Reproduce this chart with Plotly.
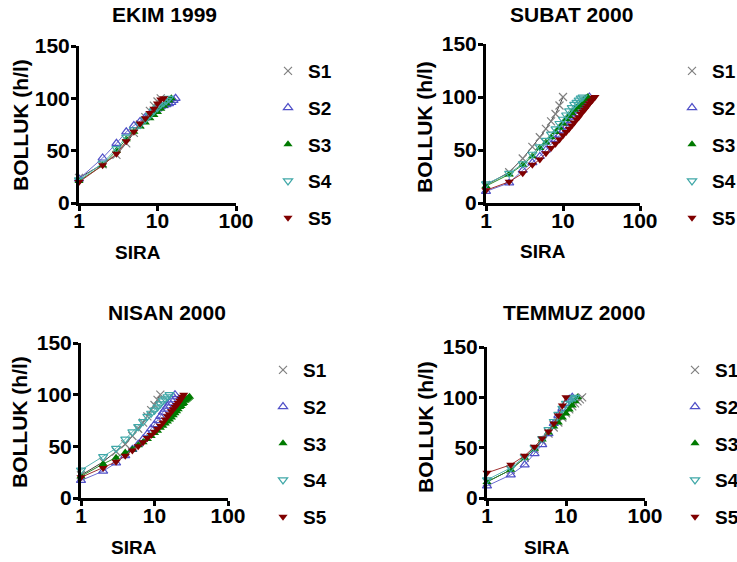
import plotly.graph_objects as go

W, H = 737, 562

series_names = ["S1", "S2", "S3", "S4", "S5"]
panel_titles = ["EKIM 1999", "SUBAT 2000", "NISAN 2000", "TEMMUZ 2000"]
x_tick_vals = [1, 10, 100]
y_tick_vals = [0, 50, 100, 150]
x_label = "SIRA"
y_label = "BOLLUK (h/l)"

# cumulative dominance (%) by species rank, per panel and series
ekim_s1 = [24, 37, 46, 57, 67, 75, 82, 88, 93, 97, 100]
ekim_s2 = [23, 43, 57, 68, 74, 78, 82, 85, 88, 90, 92, 93, 94, 95, 96, 98, 100]
ekim_s3 = [21, 36, 50, 61, 68, 73, 77, 81, 84, 87, 90, 93, 95, 98, 100]
ekim_s4 = [22, 38, 52, 63, 70, 75, 80, 84, 88, 91, 94, 96, 98, 100]
ekim_s5 = [20, 36, 47, 59, 68, 76, 81, 86, 90, 95, 99, 100]

subat_s1 = [17, 29, 42, 53, 62, 70, 77, 84, 92, 100]
subat_s2 = [11, 19, 31, 38, 44, 50, 55, 60, 64, 68, 72, 75, 78, 81, 84, 87, 89, 92, 94, 96, 98, 100]
subat_s3 = [16, 27, 36, 44, 52, 57, 62, 67, 71, 75, 79, 82, 85, 88, 90, 92, 94, 96, 98, 99, 100]
subat_s4 = [18, 28, 37, 46, 53, 59, 65, 70, 75, 79, 83, 87, 90, 93, 95, 97, 99, 100]
subat_s5 = [12, 20, 28, 36, 41, 47, 52, 56, 60, 64, 67, 70, 73, 76, 79, 81, 84, 86, 88, 90, 92, 94, 96, 97, 99, 100]

nisan_s1 = [22, 35, 45, 52, 60, 67, 73, 79, 85, 90, 95, 100]
nisan_s2 = [17, 26, 34, 41, 47, 52, 57, 62, 67, 71, 75, 79, 83, 86, 89, 92, 95, 98, 100]
nisan_s3 = [21, 33, 39, 44, 47, 51, 54, 57, 60, 63, 65, 68, 70, 72, 74, 76, 78, 80, 82, 84,
            86, 88, 89, 91, 92, 94, 95, 96, 97, 98]
nisan_s4 = [27, 40, 48, 57, 64, 69, 74, 79, 82, 85, 88, 91, 94, 96, 98, 100]
nisan_s5 = [20, 29, 35, 41, 46, 50, 54, 58, 61, 64, 67, 70, 73, 76, 79, 81, 84, 86, 88, 90,
            92, 94, 96, 98, 100]

temmuz_s1 = [16, 28, 40, 49, 57, 64, 70, 75, 80, 84, 88, 91, 94, 96, 98, 100]
temmuz_s2 = [12, 23, 33, 44, 53, 64, 74, 82, 89, 94, 98, 100]
temmuz_s3 = [16, 28, 40, 49, 58, 65, 71, 75, 80, 84, 88, 92, 96, 100]
temmuz_s4 = [18, 30, 41, 50, 59, 68, 76, 83, 89, 94, 97, 99, 100]
temmuz_s5 = [25, 33, 42, 51, 59, 66, 74, 82, 92, 100]

panels_data = [
    [ekim_s1, ekim_s2, ekim_s3, ekim_s4, ekim_s5],
    [subat_s1, subat_s2, subat_s3, subat_s4, subat_s5],
    [nisan_s1, nisan_s2, nisan_s3, nisan_s4, nisan_s5],
    [temmuz_s1, temmuz_s2, temmuz_s3, temmuz_s4, temmuz_s5],
]

marker_colors = ["#808080", "#5050c8", "#007a00", "#40a8a8", "#800000"]
line_colors = ["#404040", "#6a6ad0", "#2a8a2a", "#5ab4b4", "#a03030"]
symbols = ["x-thin-open", "triangle-up-open", "triangle-up", "triangle-down-open", "triangle-down"]

FONT = "Liberation Sans, Arial, sans-serif"

# layout geometry in pixels: (x0, x1, ytop, ybottom)
boxes = [(79, 236, 46, 203), (486, 640, 44, 203), (81, 228, 343, 498), (487, 645, 347, 498)]
title_pos = [(164, 14), (571, 14), (167, 312), (574, 312)]
ytitle_pos = [(20, 125), (424, 127), (19, 422), (425, 427)]
xtitle_pos = [(138, 252), (543, 251), (134, 547), (547, 547)]
legend_pos = [(268, 52), (672, 52), (263, 351), (675, 351)]


def px(x):
    return x / W


def py(y):
    return 1 - y / H


fig = go.Figure()
layout = dict(width=W, height=H, margin=dict(l=0, r=0, t=0, b=0, pad=0, autoexpand=False),
              paper_bgcolor="white", plot_bgcolor="white", showlegend=True,
              font=dict(family=FONT, color="black"))
annotations = []

for p in range(4):
    suffix = "" if p == 0 else str(p + 1)
    xa, ya = "x" + suffix, "y" + suffix
    leg = "legend" + suffix
    for s in range(5):
        vals = panels_data[p][s]
        ranks = list(range(1, len(vals) + 1))
        open_sym = s in (0, 1, 3)
        fig.add_trace(go.Scatter(
            x=ranks, y=vals, xaxis=xa, yaxis=ya, mode="lines+markers",
            line=dict(color=line_colors[s], width=1),
            marker=dict(symbol=symbols[s], size=8, color=marker_colors[s],
                        line=dict(color=marker_colors[s], width=1.2 if open_sym else 0)),
            showlegend=False, cliponaxis=False, hoverinfo="skip"))
    for s in range(5):
        open_sym = s in (0, 1, 3)
        fig.add_trace(go.Scatter(
            x=[None], y=[None], xaxis=xa, yaxis=ya, mode="markers", name=series_names[s],
            marker=dict(symbol=symbols[s], size=8, color=marker_colors[s],
                        line=dict(color=marker_colors[s], width=1.2 if open_sym else 0)),
            legend=leg, legendgroup=f"p{p}s{s}", showlegend=True))

    x0, x1, yt, yb = boxes[p]
    layout["xaxis" + suffix] = dict(
        domain=[px(x0), px(x1)], anchor=ya, type="log", range=[0, 2],
        tickvals=x_tick_vals, ticktext=[str(v) for v in x_tick_vals],
        showline=True, linewidth=3, linecolor="black", ticks="outside",
        ticklen=5, tickwidth=3, tickcolor="black", showgrid=False, zeroline=False,
        automargin=False, ticklabelstandoff=-8,
        tickfont=dict(size=21, family=FONT, weight="bold", color="black"))
    layout["yaxis" + suffix] = dict(
        domain=[py(yb), py(yt)], anchor=xa, range=[0, 150],
        tickvals=y_tick_vals, ticktext=[str(v) for v in y_tick_vals],
        showline=True, linewidth=3, linecolor="black", ticks="outside",
        ticklen=5, tickwidth=3, tickcolor="black", showgrid=False, zeroline=False,
        ticklabelstandoff=-3, automargin=False,
        tickfont=dict(size=21, family=FONT, weight="bold", color="black"))
    lx, ly = legend_pos[p]
    layout[leg] = dict(x=px(lx), y=py(ly), xanchor="left", yanchor="top",
                       bgcolor="rgba(0,0,0,0)", borderwidth=0,
                       font=dict(size=19, family=FONT, weight="bold", color="black"),
                       traceorder="grouped", tracegroupgap=9)

    tx, ty = title_pos[p]
    annotations.append(dict(text=panel_titles[p], x=px(tx), y=py(ty), xref="paper", yref="paper",
                            showarrow=False, xanchor="center", yanchor="middle",
                            font=dict(size=21, family=FONT, weight="bold", color="black")))
    yx, yy = ytitle_pos[p]
    annotations.append(dict(text=y_label, x=px(yx), y=py(yy), xref="paper", yref="paper",
                            showarrow=False, xanchor="center", yanchor="middle", textangle=-90,
                            font=dict(size=21, family=FONT, weight="bold", color="black")))
    sx, sy = xtitle_pos[p]
    annotations.append(dict(text=x_label, x=px(sx), y=py(sy), xref="paper", yref="paper",
                            showarrow=False, xanchor="center", yanchor="middle",
                            font=dict(size=19, family=FONT, weight="bold", color="black")))

layout["annotations"] = annotations
fig.update_layout(**layout)
fig.write_html("out.html", config={"displayModeBar": False},
               post_script="document.body.style.margin='0';document.body.style.padding='0';"
                           "document.body.style.overflow='hidden';")
